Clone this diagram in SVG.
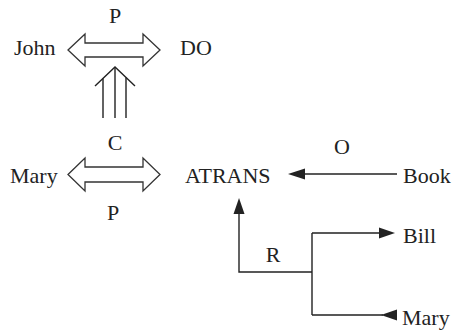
<svg xmlns="http://www.w3.org/2000/svg" width="455" height="330" viewBox="0 0 455 330">
<style>
text{font-family:'Liberation Serif','DejaVu Serif',serif;font-size:22px;fill:#222}
.c{text-anchor:middle}
.ln{fill:none;stroke:#222;stroke-width:1.4}
.dbl{fill:#fff;stroke:#333;stroke-width:1.3;stroke-linejoin:miter}
.ah{fill:#222;stroke:none}
</style>
<rect width="455" height="330" fill="#fff"/>
<g id="john"><text x="14" y="55" font-family="Liberation Serif, serif">John</text></g>
<g id="do"><text x="180" y="55" font-family="Liberation Serif, serif">DO</text></g>
<g id="mary1"><text x="10" y="183" font-family="Liberation Serif, serif">Mary</text></g>
<g id="atrans"><text x="185" y="183" font-family="Liberation Serif, serif">ATRANS</text></g>
<g id="book"><text x="403" y="183" font-family="Liberation Serif, serif">Book</text></g>
<g id="bill"><text x="403" y="243" font-family="Liberation Serif, serif">Bill</text></g>
<g id="mary2"><text x="402" y="325" font-family="Liberation Serif, serif">Mary</text></g>
<g id="connectors">
  <g id="john-do">
    <polygon class="dbl" points="68,50 85,34 85,43 143,43 143,34 160,50 143,66 143,57 85,57 85,66"/>
    <text class="c" x="115" y="23" font-family="Liberation Serif, serif">P</text>
  </g>
  <g id="mary-atrans">
    <polygon class="dbl" points="68,174.5 85,158 85,167 143,167 143,158 160,174.5 143,191 143,182 85,182 85,191"/>
    <text class="c" x="115" y="150" font-family="Liberation Serif, serif">C</text>
    <text class="c" x="113" y="220" font-family="Liberation Serif, serif">P</text>
  </g>
  <g id="causal">
    <path class="ln" d="M95,86 L115,67 L135,86"/>
    <path class="ln" d="M103,118 V78.4 M115,118 V67 M126,118 V77.5"/>
  </g>
  <g id="book-atrans">
    <path class="ln" d="M397,174 H303"/>
    <polygon class="ah" points="288,174 305,168.5 305,179.5"/>
    <text class="c" x="342" y="154" font-family="Liberation Serif, serif">O</text>
  </g>
  <g id="recipient">
    <path class="ln" d="M239,211 V272 H312 M312,233 V315 M312,233 H381 M312,315 H383"/>
    <polygon class="ah" points="239,198 233.5,214 244.5,214"/>
    <polygon class="ah" points="395,233 379,227.5 379,238.5"/>
    <polygon class="ah" points="381,315 397,309.5 397,320.5"/>
    <text class="c" x="273" y="262" font-family="Liberation Serif, serif">R</text>
  </g>
</g>
</svg>
